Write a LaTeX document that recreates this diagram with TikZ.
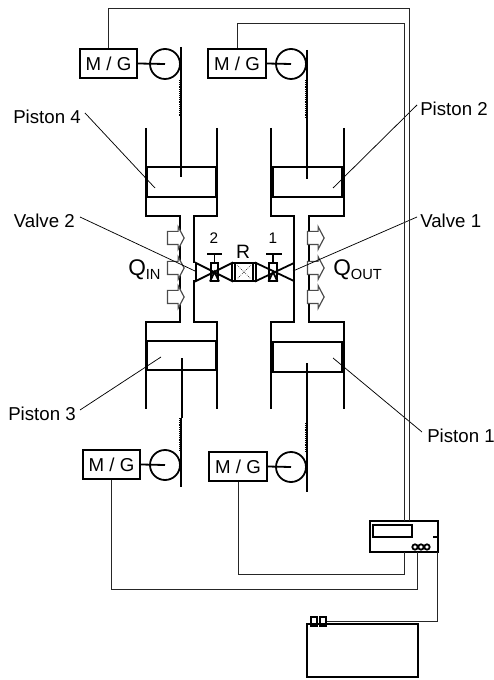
\documentclass[tikz,border=0pt]{standalone}
\usepackage{fontspec}
\setmainfont{Liberation Sans}
\usetikzlibrary{shapes.arrows}
\tikzset{
  wall/.style={line width=1.35pt,line join=miter},
  wire/.style={line width=0.75pt,black!85},
  leader/.style={line width=0.55pt},
  mgbox/.style={draw,line width=1.35pt,inner sep=0pt,minimum width=43pt,minimum height=22pt,font=\fontsize{14}{14}\selectfont},
  wheel/.style={circle,draw,line width=1.35pt,inner sep=0pt,minimum size=22.5pt},
  heat/.style={single arrow,draw=black!70,fill=white,line width=0.9pt,inner sep=4.5pt,minimum height=12.5pt,minimum width=16pt,single arrow tip angle=124,single arrow head extend=3.5pt},
  lab/.style={inner sep=0pt,font=\fontsize{14}{14}\selectfont},
  small/.style={inner sep=0pt,font=\fontsize{11.5}{12}\selectfont},
  rack/.style={line width=1.2pt,dash pattern=on 0.7pt off 0.7pt},
}
\begin{document}
\begin{tikzpicture}[x=0.75pt,y=-0.75pt]
      \useasboundingbox (0,0) rectangle (493,680);%

      % motor / generator units
      \node[mgbox] (MG4) at (108.5,63.5) {M / G};%
      \node[mgbox] (MG2) at (237,63.5) {M / G};%
      \node[mgbox] (MG3) at (111.5,464.5) {M / G};%
      \node[mgbox] (MG1) at (238,466.5) {M / G};%

      \node[wheel] (W4) at (165,64) {};%
      \node[wheel] (W2) at (291,64) {};%
      \node[wheel] (W3) at (165,465) {};%
      \node[wheel] (W1) at (291,467) {};%

      \draw[wall] (MG4.east) -- (W4.center);%
      \draw[wall] (MG2.east) -- (W2.center);%
      \draw[wall] (MG3.east) -- (W3.center);%
      \draw[wall] (MG1.east) -- (W1.center);%

      % rods
      \draw[line width=1.8pt] (181,47) -- (181,117);%
      \draw[rack] (179.5,80) -- (179.5,117);%
      \draw[wall] (181,117) -- (181,177);%
      \draw[line width=1.8pt] (307,50) -- (307,119);%
      \draw[rack] (305.5,80) -- (305.5,119);%
      \draw[wall] (307,119) -- (307,179);%
      \draw[wall] (182,358) -- (182,418);%
      \draw[line width=1.8pt] (181,418) -- (181,487);%
      \draw[rack] (179.5,418) -- (179.5,450);%
      \draw[wall] (307,363) -- (307,423);%
      \draw[line width=1.8pt] (307,423) -- (307,492);%
      \draw[rack] (305.5,423) -- (305.5,452);%

      % cylinders and necks
      \draw[wall] (146,128) -- (146,216) -- (180,216) -- (180,322) -- (146,322) -- (146,409);%
      \draw[wall] (217,128) -- (217,216) -- (194,216) -- (194,263);%
      \draw[wall] (194,280) -- (194,322) -- (217,322) -- (217,409);%
      \draw[wall] (271,128) -- (271,216) -- (294,216) -- (294,263);%
      \draw[wall] (294,280) -- (294,322) -- (271,322) -- (271,409);%
      \draw[wall] (344,128) -- (344,216) -- (309,216) -- (309,322) -- (344,322) -- (344,409);%

      % pistons
      \draw[wall] (147,167) rectangle (216,197);%
      \draw[wall] (273,167) rectangle (342,197);%
      \draw[wall] (147,341) rectangle (216,370);%
      \draw[wall] (273,342) rectangle (342,372);%
      \draw[line width=2.2pt] (147,167) -- (147,197) (216,167) -- (216,197);%
      \draw[line width=2.2pt] (147,341) -- (147,370) (216,341) -- (216,370);%
      \draw[line width=2.2pt] (342,167) -- (342,197) (342,342) -- (342,372);%

      % heat arrows
      \foreach \n/\y in {1/238,2/268,3/297}{%
        \node[heat] (IN\n) at (174,\y) {};%
        \node[heat] (OUT\n) at (314,\y) {};%
      }

      % valves and regenerator
      \draw[wall] (196,263) -- (232,281) -- (232,263) -- (196,281) -- cycle;%
      \draw[wall] (256,263) -- (294,281) -- (294,263) -- (256,281) -- cycle;%
      \node[draw,wall,inner sep=0pt,minimum width=5.5pt,minimum height=13pt] (V2) at (214.5,272) {};%
      \node[draw,wall,inner sep=0pt,minimum width=5.5pt,minimum height=13pt] (V1) at (273,272) {};%
      \draw[wall] (V2.north) -- (214.5,254) (207,254) -- (222,254);%
      \draw[wall] (V1.north) -- (273,254) (266,254) -- (282,254);%
      \draw[wall] (V2.south west) -- (V2.center) -- (V2.south east);%
      \draw[wall] (V1.south west) -- (V1.center) -- (V1.south east);%
      \node[draw,wall,inner sep=0pt,minimum width=18pt,minimum height=13pt] (R) at (244.5,272) {};%
      \draw[wall] (235,263) -- (235,281) (253,263) -- (253,281);%
      \draw[line width=0.5pt,densely dotted] (237,265) -- (251,279) (251,265) -- (237,279);%

      \node[small] (N2) at (214,238) {2};%
      \node[small] (N1) at (273,238) {1};%
      \node[inner sep=0pt,font=\fontsize{14.5}{15}\selectfont] (RT) at (243,252) {R};%

      % labels
      \node[lab,anchor=east] (T4) at (81,117) {Piston 4};%
      \node[lab,anchor=west] (T2) at (420,109) {Piston 2};%
      \node[lab,anchor=east] (TV2) at (75,221) {Valve 2};%
      \node[lab,anchor=west] (TV1) at (420,221) {Valve 1};%
      \node[lab,anchor=east] (T3) at (76,414) {Piston 3};%
      \node[lab,anchor=west] (T1) at (427,436) {Piston 1};%
      \node[inner sep=0pt,anchor=base west] (QI) at (128,276) {\fontsize{17}{18}\selectfont Q\raisebox{-2.5pt}{\fontsize{11}{12}\selectfont IN}};%
      \node[inner sep=0pt,anchor=base west] (QO) at (333,276) {\fontsize{17}{18}\selectfont Q\raisebox{-2.5pt}{\fontsize{11}{12}\selectfont OUT}};%

      \coordinate (L4) at (85,113);%
      \coordinate (L2) at (417,105);%
      \coordinate (L3) at (80,410);%
      \coordinate (L1) at (422,432);%
      \coordinate (LV2) at (80,217);%
      \coordinate (LV1) at (417,217);%
      \coordinate (E4) at (155,188);%
      \coordinate (E2) at (333,188);%
      \coordinate (E3) at (161,357);%
      \coordinate (E1) at (333,358);%
      \coordinate (EV2) at (195,271);%
      \coordinate (EV1) at (293,271);%
      \draw[leader] (L4) -- (E4);%
      \draw[leader] (L2) -- (E2);%
      \draw[leader] (L3) -- (E3);%
      \draw[leader] (L1) -- (E1);%
      \draw[leader] (LV2) -- (EV2);%
      \draw[leader] (LV1) -- (EV1);%

      % controller and battery
      \node[draw,wall,inner sep=0pt,minimum width=51pt,minimum height=23pt] (CB) at (404,536.5) {};%
      \node[draw,wall,inner sep=0pt,minimum width=29pt,minimum height=9pt] (CD) at (392.5,531) {};%
      \node[circle,draw,wall,inner sep=0pt,minimum size=4pt] (C1) at (415,547) {};%
      \node[circle,draw,wall,inner sep=0pt,minimum size=4pt] (C2) at (421,547) {};%
      \node[circle,draw,wall,inner sep=0pt,minimum size=4pt] (C3) at (427,547) {};%
      \coordinate (CT) at (433,537);%
      \draw[wall] (CT) -- (CT -| CB.east);%

      \node[draw,wall,inner sep=0pt,minimum width=83pt,minimum height=40pt] (BT) at (362.5,650.5) {};%
      \node[draw,wall,inner sep=0pt,minimum width=4.5pt,minimum height=6.5pt] (B1) at (314,621.5) {};%
      \node[draw,wall,inner sep=0pt,minimum width=5pt,minimum height=6.5pt] (B2) at (323,621.5) {};%

      % wires
      \coordinate (CW4) at (409,521);%
      \coordinate (CW2) at (404,521);%
      \coordinate (CW1) at (404,552);%
      \coordinate (CW3) at (417,552);%
      \coordinate (CWB) at (437,552);%
      \draw[wire] (MG4.north) |- (409,9) -- (CW4);%
      \draw[wire] (MG2.north) |- (404,24) -- (CW2);%
      \draw[wire] (MG1.south) |- (404,574) -- (CW1);%
      \draw[wire] (MG3.south) |- (417,589) -- (CW3);%
      \draw[wire] (B2.east) -- (437,621.5) -- (CWB);%
    \end{tikzpicture}
\end{document}
